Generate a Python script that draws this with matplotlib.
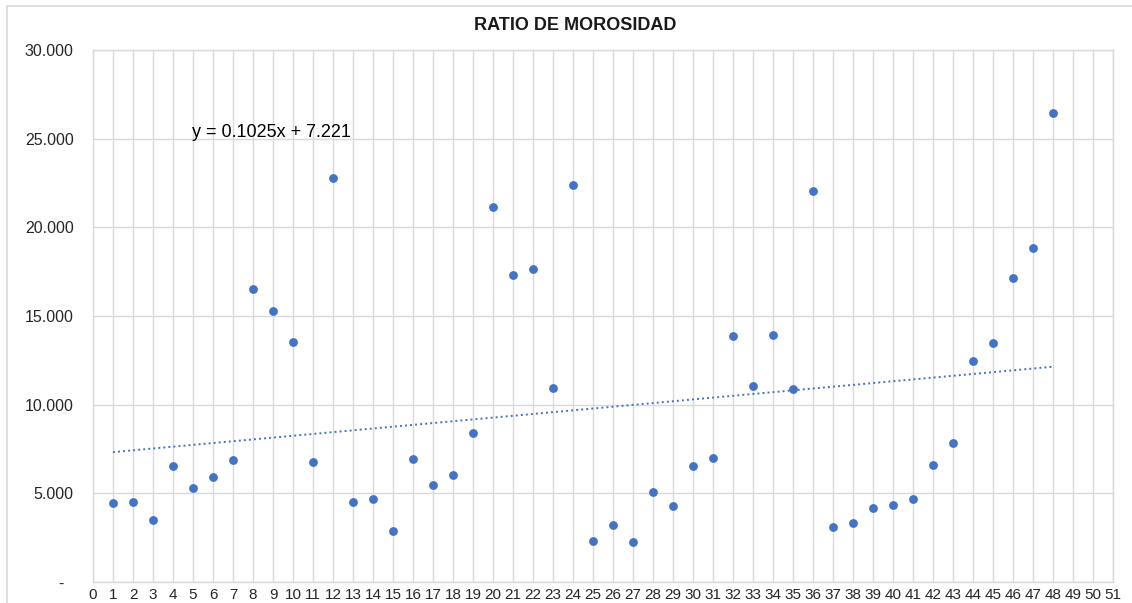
import numpy as np
import matplotlib
matplotlib.use('Agg')
import matplotlib.pyplot as plt
from matplotlib.ticker import FuncFormatter, MultipleLocator

plt.rcParams['font.family'] = ['Liberation Sans', 'DejaVu Sans']

# period index and morosity ratio
periodo = list(range(1, 49))
ratio = [4.44, 4.53, 3.51, 6.54, 5.28, 5.92, 6.87, 16.52, 15.28, 13.54,
         6.74, 22.81, 4.53, 4.70, 2.85, 6.91, 5.45, 6.03, 8.43, 21.16,
         17.34, 17.64, 10.94, 22.40, 2.29, 3.19, 2.25, 5.06, 4.31, 6.54,
         7.01, 13.88, 11.03, 13.92, 10.90, 22.06, 3.09, 3.34, 4.20, 4.36,
         4.68, 6.59, 7.85, 12.46, 13.47, 17.17, 18.84, 26.44]

# linear trend shown on the chart
pendiente = 0.1025
intercepto = 7.221
ecuacion = "y = 0.1025x + 7.221"

azul = '#4472C4'
gris = '#d9d9d9'

fig = plt.figure(figsize=(11.32, 6.03), dpi=100)
ax = fig.add_axes([93/1132, 1 - 582/603, (1113 - 93)/1132, (582 - 50)/603])

# outer chart border
fig.add_artist(plt.Rectangle((7/1132, -0.05), 1.1, 1 - 6/603 + 0.05,
                             transform=fig.transFigure, fill=False,
                             edgecolor=gris, linewidth=1.2))

ax.scatter(periodo, ratio, s=40, color=azul, zorder=3, linewidths=0)

xt = np.array([periodo[0], periodo[-1]])
ax.plot(xt, pendiente * xt + intercepto, color=azul, linewidth=1.4,
        linestyle=(0, (1, 1.6)), zorder=2)

ax.text(4.95, 25.35, ecuacion, fontsize=13, va='center', ha='left')

ax.set_xlim(0, 51)
ax.set_ylim(0, 30)
ax.xaxis.set_major_locator(MultipleLocator(1))
ax.yaxis.set_major_locator(MultipleLocator(5))
ax.yaxis.set_major_formatter(FuncFormatter(
    lambda v, p: '-  ' if v == 0 else '{:.3f}'.format(v)))
ax.grid(True, color=gris, linewidth=1.0)
ax.set_axisbelow(True)
for s in ax.spines.values():
    s.set_color(gris)
    s.set_linewidth(1.0)
ax.tick_params(length=0, colors='#262626')
ax.tick_params(axis='y', pad=14, labelsize=11.5)
ax.tick_params(axis='x', pad=4, labelsize=11)

fig.text(575/1132, 1 - 25/603, 'RATIO DE MOROSIDAD', fontsize=13,
         fontweight='bold', ha='center', va='center', color='#1a1a1a')

fig.savefig('out.png', dpi=100)
